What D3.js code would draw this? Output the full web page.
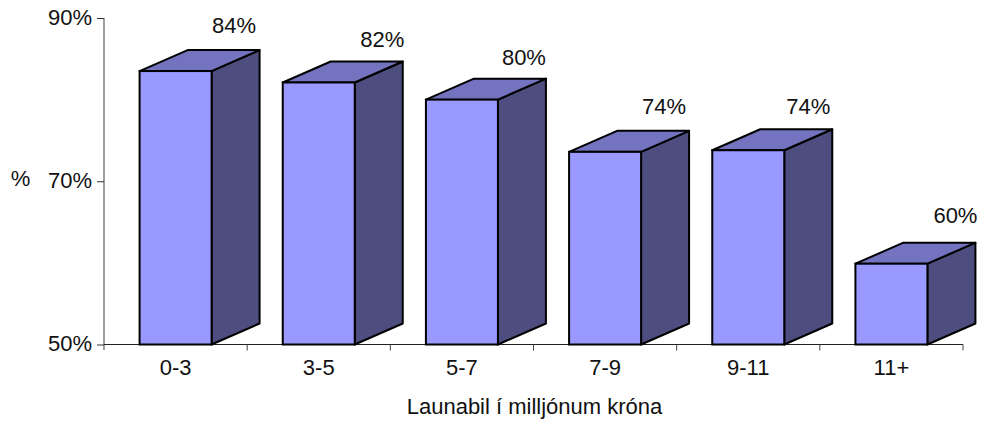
<!DOCTYPE html>
<html><head><meta charset="utf-8">
<script src="https://cdnjs.cloudflare.com/ajax/libs/d3/7.8.5/d3.min.js"></script>
<style>html,body{margin:0;padding:0;background:#fff}svg{display:block}
text{font-family:"Liberation Sans",Arial,sans-serif;font-size:22px;fill:#111}</style>
</head><body><svg id="c" width="982" height="421"></svg>
<script>
const categories = ["0-3","3-5","5-7","7-9","9-11","11+"];
const values = [83.5,82.1,80.0,73.6,73.8,59.9];
const valueLabels = ["84%","82%","80%","74%","74%","60%"];
const yTicks = [50,70,90];
const xTitle = "Launabil í milljónum króna";
const yTitle = "%";
// hand placement of the data labels relative to the bar, layout only
const labelNudgeX = [-2.5,2.5,1,-2,-1,3];
const labelNudgeY = [-1,1.3,2.5,-1,0.6,-3.3];

const svg = d3.select("#c");
const x = d3.scaleBand().domain(categories).range([104,963]);
const y = d3.scaleLinear().domain([50,90]).range([344.5,18]);
const barW = 72, depthX = 48, depthY = 21;
const ink = "#000";

const gy = svg.append("g").attr("transform","translate(104,0)")
  .call(d3.axisLeft(y).tickValues(yTicks).tickFormat(d=>d+"%").tickSize(7).tickPadding(5));
gy.select(".domain").attr("stroke","#808080").attr("stroke-width",1.5).attr("d","M0,18V350");
gy.selectAll(".tick line").attr("stroke","#333");
gy.selectAll("text").style("font-size","22px").attr("dy","6px");

const gx = svg.append("g").attr("transform","translate(0,344.5)");
gx.append("line").attr("x1",x.range()[0]).attr("x2",x.range()[1]).attr("stroke","#222").attr("stroke-width",1);
gx.selectAll("line.t").data(categories).join("line").attr("class","t")
  .attr("x1",d=>x(d)+x.bandwidth()).attr("x2",d=>x(d)+x.bandwidth()).attr("y1",0).attr("y2",6).attr("stroke","#444");
gx.selectAll("text").data(categories).join("text")
  .attr("x",d=>x(d)+x.bandwidth()/2).attr("y",30).attr("text-anchor","middle").text(d=>d);

const rows = categories.map((c,i)=>({c,v:values[i],label:valueLabels[i],nx:labelNudgeX[i],ny:labelNudgeY[i]}));
const bars = svg.append("g").selectAll("g").data(rows).join("g");
const left = d=>x(d.c)+(x.bandwidth()-barW)/2;
const poly = pts=>pts.map(p=>p.join(",")).join(" ");

bars.append("polygon").attr("fill","#4d4d7f").attr("stroke",ink).attr("stroke-width",2).attr("stroke-linejoin","round")
  .attr("points",d=>{const l=left(d)+barW,t=y(d.v),b=y(50);return poly([[l,t],[l+depthX,t-depthY],[l+depthX,b-depthY],[l,b]]);});
bars.append("polygon").attr("fill","#7373bf").attr("stroke",ink).attr("stroke-width",2).attr("stroke-linejoin","round")
  .attr("points",d=>{const l=left(d),t=y(d.v);return poly([[l,t],[l+depthX,t-depthY],[l+barW+depthX,t-depthY],[l+barW,t]]);});
bars.append("rect").attr("fill","#9999ff").attr("stroke",ink).attr("stroke-width",2)
  .attr("x",left).attr("y",d=>y(d.v)).attr("width",barW).attr("height",d=>y(50)-y(d.v));
bars.append("text").attr("text-anchor","middle")
  .attr("x",d=>x(d.c)+x.bandwidth()/2+61+d.nx).attr("y",d=>y(d.v)-37+d.ny).text(d=>d.label);

svg.append("text").attr("x",534.5).attr("y",414).attr("text-anchor","middle").text(xTitle);
svg.append("text").attr("x",20.5).attr("y",186).attr("text-anchor","middle").text(yTitle);
</script></body></html>
